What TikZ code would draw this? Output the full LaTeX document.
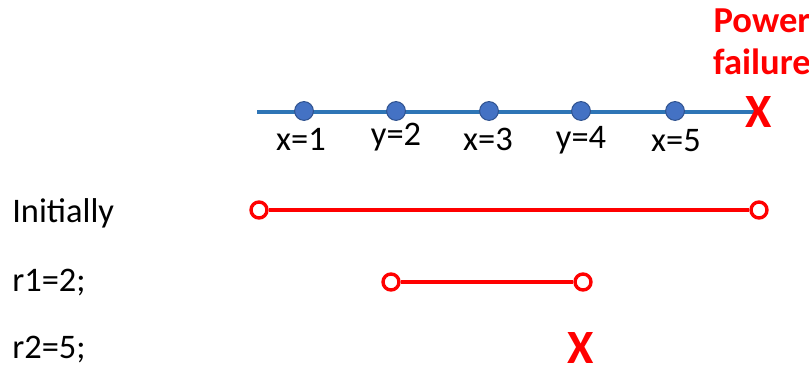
\documentclass[tikz,border=0pt]{standalone}
\usepackage{fontspec}
\setmainfont{Carlito}
\usetikzlibrary{positioning}
\definecolor{lineblue}{HTML}{2E75B6}
\definecolor{dotblue}{HTML}{4472C4}
\definecolor{dotedge}{HTML}{2F528F}
\definecolor{failred}{HTML}{FF0000}

\begin{document}
\begin{tikzpicture}[x=0.025cm,y=-0.025cm,
lbl/.style={inner sep=0pt,font=\fontsize{24.5}{29}\selectfont},
op/.style={lbl,anchor=west},
event/.style={circle,draw=dotedge,fill=dotblue,line width=0.7pt,minimum size=0.47cm,inner sep=0pt},
endpt/.style={circle,draw=failred,fill=white,line width=2.4pt,minimum size=0.4cm,inner sep=0pt},
crash/.style={text=failred,inner sep=0pt,font=\bfseries\fontsize{34}{34}\selectfont},
seg/.style={draw=failred,line width=3.2pt}]
\useasboundingbox (0,0) rectangle (809,373);
% the log with its writes
\coordinate (logstart) at (257,112);
\coordinate (logend) at (758,112);
\draw[lineblue,line width=2.8pt](logstart)--(logend);
\node[event](w1) at (304,111){};
\node[event](w2) at (396,111){};
\node[event](w3) at (489,111){};
\node[event](w4) at (581,111){};
\node[event](w5) at (675,111){};
\node[lbl](l1) at (301,139){x=1};
\node[lbl](l2) at (396,137){y=2};
\node[lbl](l3) at (488,139){x=3};
\node[lbl](l4) at (581,140){y=4};
\node[lbl](l5) at (676,141){x=5};
\node[crash](fail) at (759,112){X};
\node[crash,align=center,font=\bfseries\fontsize{26}{30}\selectfont](power) at (762,42){Power\\failure};
% recovery steps
\node[op](init) at (12,213){Initially};
\node[op](r1) at (12,283){r1=2;};
\node[op](r2) at (12,350){r2=5;};
\node[endpt](ia) at (259,210){};
\node[endpt](ib) at (759,210){};
\draw[seg](ia)--(ib);
\node[endpt](ra) at (391,282){};
\node[endpt](rb) at (583,282){};
\draw[seg,line width=2.6pt](ra)--(rb);
\node[crash](lost) at (581,348){X};
\end{tikzpicture}
\end{document}
